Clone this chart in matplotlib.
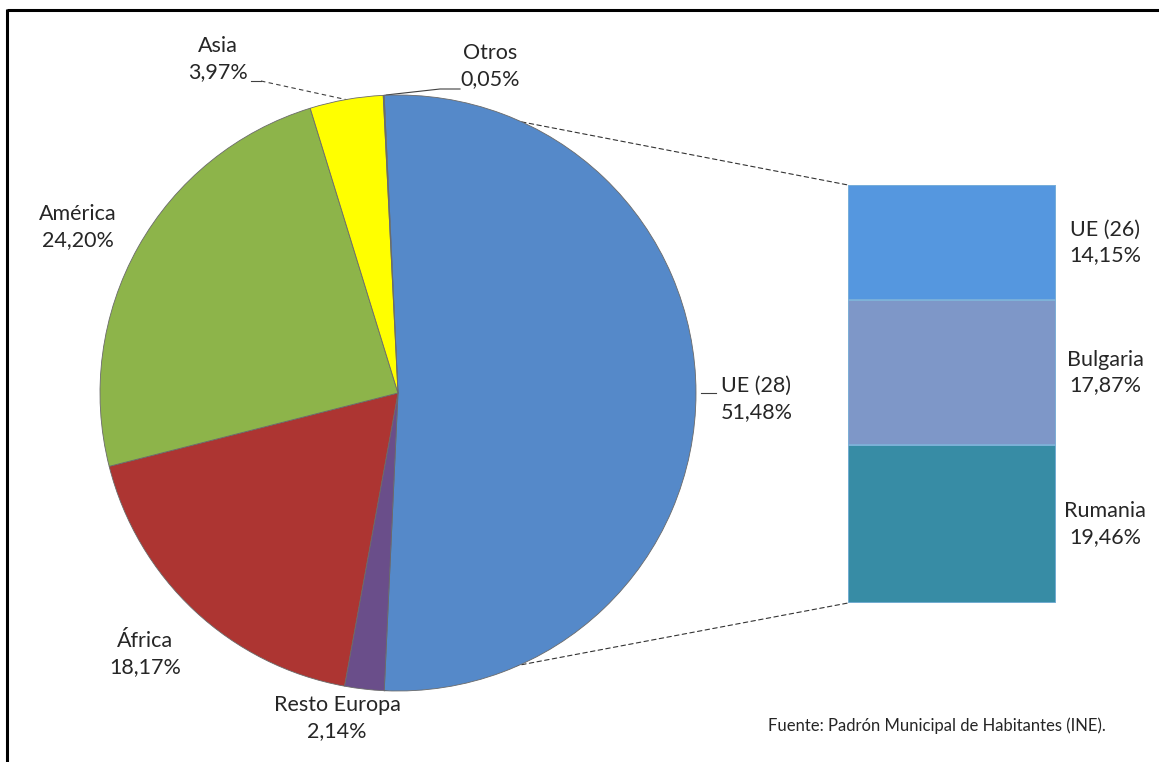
import numpy as np
import matplotlib.pyplot as plt
from matplotlib.patches import ConnectionPatch

# data
pie_labels = ["UE (28)", "Resto Europa", "África", "América", "Asia", "Otros"]
pie_values = [51.48, 2.14, 18.17, 24.20, 3.97, 0.05]
pie_colors = ["#5589c9", "#6a4e8a", "#ad3532", "#8db44a", "#ffff00", "#4bacc6"]

bar_labels = ["Rumania", "Bulgaria", "UE (26)"]   # bottom to top
bar_values = [19.46, 17.87, 14.15]
bar_colors = ["#378ca5", "#7e97c8", "#5597df"]

source_text = "Fuente: Padrón Municipal de Habitantes (INE)."

W, H = 1159, 762
plt.rcParams["font.family"] = ["Lato", "DejaVu Sans"]
lab_size = 15.5
txt_col = "#262626"


def pct(v):
    return f"{v:.2f}%".replace(".", ",")


fig = plt.figure(figsize=(W / 100, H / 100), dpi=100)

# background axes in pixel coords for texts and the frame
ax0 = fig.add_axes([0, 0, 1, 1])
ax0.set_xlim(0, W)
ax0.set_ylim(H, 0)
ax0.axis("off")
ax0.plot([7, 7], [9, H], color="black", lw=2.2, solid_capstyle="butt")
ax0.plot([7, W], [10, 10], color="black", lw=2.2, solid_capstyle="butt")

#######
# pie #
#######
cx, cy, r = 398, 393, 298
ax_pie = fig.add_axes([(cx - r) / W, (H - cy - r) / H, 2 * r / W, 2 * r / H])
start = pie_values[0] * 1.8  # first slice centred on the right
ax_pie.pie(pie_values, colors=pie_colors, startangle=start, counterclock=False,
           radius=1, wedgeprops=dict(edgecolor="#6a6a6a", linewidth=0.6))
ax_pie.set_xlim(-1, 1)
ax_pie.set_ylim(-1, 1)
ax_pie.axis("off")

#######
# bar #
#######
ax_bar = fig.add_axes([848 / W, (H - 603) / H, 208 / W, 418 / H])
bottom = 0
for lab, v, c in zip(bar_labels, bar_values, bar_colors):
    ax_bar.bar(0, v, bottom=bottom, width=1, color=c, edgecolor="#7fb3d9", linewidth=1.2)
    ax_bar.annotate(f"{lab}\n{pct(v)}", xy=(0.5, bottom + v / 2), xytext=(49, 0),
                    textcoords="offset pixels", ha="center", va="center",
                    fontsize=lab_size, color=txt_col, linespacing=1.35)
    bottom += v
total = bottom
ax_bar.set_xlim(-0.5, 0.5)
ax_bar.set_ylim(0, total)
ax_bar.axis("off")

# dashed lines from the split slice to the bar
a_top = np.deg2rad(start)
a_bot = np.deg2rad(start - pie_values[0] * 3.6)
for a, yb in [(a_top, total), (a_bot, 0)]:
    con = ConnectionPatch(xyA=(np.cos(a), np.sin(a)), coordsA=ax_pie.transData,
                          xyB=(-0.5, yb), coordsB=ax_bar.transData,
                          linestyle=(0, (4, 3)), linewidth=0.8, color="#333333")
    con.set_zorder(-1)
    fig.add_artist(con)

##############
# pie labels #
##############
pos = {
    "UE (28)": (721, 399, "left"),
    "Resto Europa": (337, 718, "center"),
    "África": (145, 654, "center"),
    "América": (78, 227, "center"),
    "Asia": (218, 59, "center"),
    "Otros": (490, 66, "center"),
}
for lab, v in zip(pie_labels, pie_values):
    x, y, ha = pos[lab]
    ax0.text(x, y, f"{lab}\n{pct(v)}", ha=ha, va="center", fontsize=lab_size,
             color=txt_col, linespacing=1.35, multialignment=ha)

# leader lines
ax0.plot([701, 716], [393, 393], color="#404040", lw=0.8)
ax0.plot([251, 261], [81, 81], color="#404040", lw=0.8)
ax0.plot([261, 348], [81, 100], color="#404040", lw=0.8, linestyle=(0, (4, 3)))
ax0.plot([386, 440, 460], [95, 89, 89], color="#404040", lw=0.8)

ax0.text(937, 726, source_text, ha="center", va="center", fontsize=12, color=txt_col)

fig.savefig("out.png", dpi=100)
